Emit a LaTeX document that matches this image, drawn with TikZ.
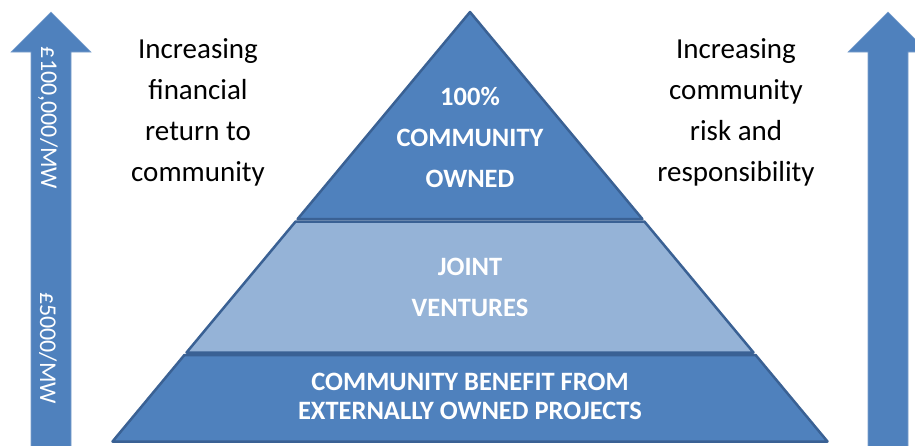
\documentclass[tikz,border=0pt]{standalone}
\usepackage{fontspec}
\setmainfont{Carlito}
\usetikzlibrary{positioning}
\definecolor{tierblue}{HTML}{4F81BD}
\definecolor{tierlight}{HTML}{95B3D7}
\definecolor{tierline}{HTML}{3A6194}

\begin{document}
\begin{tikzpicture}[x=1pt, y=-1pt,
  tier/.style={draw=tierline, line width=2.5pt, line join=round},
  tierlabel/.style={text=white, align=center, font=\fontsize{26.5}{41}\selectfont\bfseries},
  side/.style={align=center, font=\fontsize{29}{41}\selectfont},
  upbar/.style={fill=tierblue, draw=tierblue!75!white, line width=0.6pt},
  barlabel/.style={text=white, rotate=-90, font=\fontsize{24}{28}\selectfont}]
\useasboundingbox (0,0) rectangle (915,445);

\draw[upbar] (31,446) -- (31,52) -- (11,52) -- (51,12) -- (91,52) -- (71,52) -- (71,446);
\draw[upbar] (868,446) -- (868,52) -- (848,52) -- (888,12) -- (928,52) -- (908,52) -- (908,446);

\filldraw[tier, fill=tierblue] (470,12) -- (642.4,219) -- (297.6,219) -- cycle;
\filldraw[tier, fill=tierlight] (295.6,221.5) -- (644.4,221.5) -- (753.5,352.5) -- (186.5,352.5) -- cycle;
\filldraw[tier, fill=tierblue] (184.4,355) -- (755.6,355) -- (827.5,441.5) -- (112.5,441.5) -- cycle;

\node[tierlabel] (owned) at (470,137.5) {100\%\\COMMUNITY\\OWNED};
\node[tierlabel] (joint) at (470,287) {JOINT\\VENTURES};
\node[tierlabel, font=\fontsize{26.5}{29}\selectfont\bfseries] (benefit) at (470,396.5) {COMMUNITY BENEFIT FROM\\EXTERNALLY OWNED PROJECTS};

\node[side] (finance) at (198,112) {Increasing\\financial\\return to\\community};
\node[side] (risk) at (736,112) {Increasing\\community\\risk and\\responsibility};

\node[barlabel] (high) at (48,118) {£100,000/MW};
\node[barlabel] (low) at (48,348) {£5000/MW};
\end{tikzpicture}
\end{document}
